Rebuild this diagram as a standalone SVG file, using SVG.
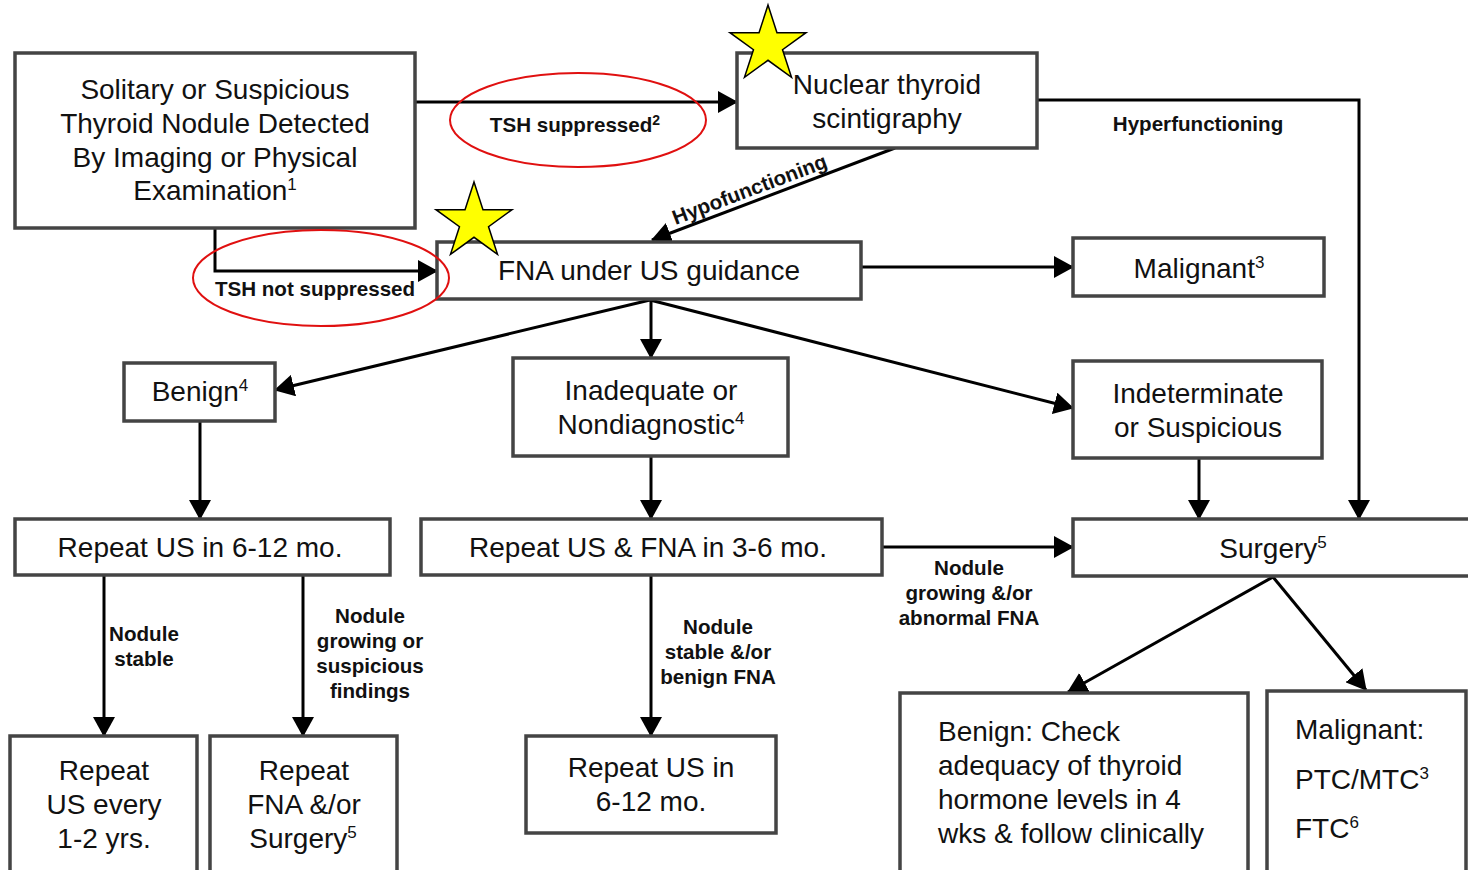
<svg xmlns="http://www.w3.org/2000/svg" width="1468" height="870" viewBox="0 0 1468 870">
<style>
.box{fill:#fff;stroke:#444;stroke-width:3.5}
.t{font-family:"Liberation Sans",Arial,sans-serif;font-size:28px;fill:#111;text-anchor:middle}
.tl{font-family:"Liberation Sans",Arial,sans-serif;font-size:28px;fill:#111}
.lb{font-family:"Liberation Sans",Arial,sans-serif;font-size:20.6px;font-weight:bold;fill:#111;text-anchor:middle}
.c{fill:none;stroke:#000;stroke-width:3}
.ca{fill:none;stroke:#000;stroke-width:3;marker-end:url(#ah)}
.ell{fill:none;stroke:#e01010;stroke-width:2}
.star{fill:#ffff00;stroke:#000;stroke-width:1.5}
</style>
<defs>
<marker id="ah" viewBox="0 0 20 22" refX="19" refY="11" markerWidth="20" markerHeight="22" markerUnits="userSpaceOnUse" orient="auto">
<path d="M0,0 L20,11 L0,22 z" fill="#000"/>
</marker>
<polygon id="starshape" points="0,-40 8.98,-12.36 38.04,-12.36 14.53,4.72 23.51,32.36 0,15.28 -23.51,32.36 -14.53,4.72 -38.04,-12.36 -8.98,-12.36"/>
</defs>
<rect width="1468" height="870" fill="#fff"/>

<g id="connectors">
<path class="ca" d="M415,102 H737"/>
<path class="ca" d="M215,228 V271 H437"/>
<path class="ca" d="M1037,100 H1359 V519"/>
<path class="ca" d="M895,148 L652,240"/>
<path class="ca" d="M861,267 H1073"/>
<path class="ca" d="M650,300 L275,390"/>
<path class="ca" d="M651,300 V358"/>
<path class="ca" d="M650,300 L1073,408"/>
<path class="ca" d="M200,421 V519"/>
<path class="ca" d="M651,456 V519"/>
<path class="ca" d="M1199,458 V519"/>
<path class="ca" d="M882,547 H1073"/>
<path class="ca" d="M104,575 V736"/>
<path class="ca" d="M303,575 V736"/>
<path class="ca" d="M651,575 V736"/>
<path class="ca" d="M1273,577 L1068,692"/>
<path class="ca" d="M1273,577 L1366,690"/>
</g>

<g id="labels">
<text class="lb" x="575" y="132">TSH suppressed<tspan dy="-7" font-size="14">2</tspan></text>
<text class="lb" x="315" y="296">TSH not suppressed</text>
<text class="lb" x="1198" y="131">Hyperfunctioning</text>
<text class="lb" transform="translate(752,196) rotate(-20.7)">Hypofunctioning</text>
<text class="lb"><tspan x="969" y="575">Nodule</tspan><tspan x="969" y="600">growing &amp;/or</tspan><tspan x="969" y="625">abnormal FNA</tspan></text>
<text class="lb"><tspan x="144" y="641">Nodule</tspan><tspan x="144" y="666">stable</tspan></text>
<text class="lb"><tspan x="370" y="623">Nodule</tspan><tspan x="370" y="648">growing or</tspan><tspan x="370" y="673">suspicious</tspan><tspan x="370" y="698">findings</tspan></text>
<text class="lb"><tspan x="718" y="634">Nodule</tspan><tspan x="718" y="659">stable &amp;/or</tspan><tspan x="718" y="684">benign FNA</tspan></text>
</g>

<g id="n-start">
<rect class="box" x="15" y="53" width="400" height="175"/>
<text class="t"><tspan x="215" y="99">Solitary or Suspicious</tspan><tspan x="215" y="133">Thyroid Nodule Detected</tspan><tspan x="215" y="167">By Imaging or Physical</tspan><tspan x="215" y="200">Examination<tspan dy="-10" font-size="17">1</tspan></tspan></text>
</g>

<g id="n-nuclear">
<rect class="box" x="737" y="53" width="300" height="95"/>
<text class="t"><tspan x="887" y="94">Nuclear thyroid</tspan><tspan x="887" y="128">scintigraphy</tspan></text>
</g>

<g id="n-fna">
<rect class="box" x="437" y="242" width="424" height="57"/>
<text class="t" x="649" y="280">FNA under US guidance</text>
</g>

<g id="n-malignant3">
<rect class="box" x="1073" y="238" width="251" height="58"/>
<text class="t" x="1199" y="278">Malignant<tspan dy="-10" font-size="17">3</tspan></text>
</g>

<g id="n-benign">
<rect class="box" x="124" y="363" width="151" height="58"/>
<text class="t" x="200" y="401">Benign<tspan dy="-10" font-size="17">4</tspan></text>
</g>

<g id="n-inadequate">
<rect class="box" x="513" y="358" width="275" height="98"/>
<text class="t"><tspan x="651" y="400">Inadequate or</tspan><tspan x="651" y="434">Nondiagnostic<tspan dy="-10" font-size="17">4</tspan></tspan></text>
</g>

<g id="n-indeterminate">
<rect class="box" x="1073" y="361" width="249" height="97"/>
<text class="t"><tspan x="1198" y="403">Indeterminate</tspan><tspan x="1198" y="437">or Suspicious</tspan></text>
</g>

<g id="n-repeat-us">
<rect class="box" x="15" y="519" width="375" height="56"/>
<text class="t" x="200" y="557">Repeat US in 6-12 mo.</text>
</g>

<g id="n-repeat-usfna">
<rect class="box" x="421" y="519" width="461" height="56"/>
<text class="t" x="648" y="557">Repeat US &amp; FNA in 3-6 mo.</text>
</g>

<g id="n-surgery">
<rect class="box" x="1073" y="519" width="410" height="57"/>
<text class="t" x="1273" y="558">Surgery<tspan dy="-10" font-size="17">5</tspan></text>
</g>

<g id="n-repeat-every">
<rect class="box" x="10" y="736" width="187" height="150"/>
<text class="t"><tspan x="104" y="780">Repeat</tspan><tspan x="104" y="814">US every</tspan><tspan x="104" y="848">1-2 yrs.</tspan></text>
</g>

<g id="n-repeat-fna">
<rect class="box" x="210" y="736" width="187" height="150"/>
<text class="t"><tspan x="304" y="780">Repeat</tspan><tspan x="304" y="814">FNA &amp;/or</tspan><tspan x="303" y="848">Surgery<tspan dy="-10" font-size="17">5</tspan></tspan></text>
</g>

<g id="n-repeat-us2">
<rect class="box" x="526" y="736" width="250" height="97"/>
<text class="t"><tspan x="651" y="777">Repeat US in</tspan><tspan x="651" y="811">6-12 mo.</tspan></text>
</g>

<g id="n-benign-check">
<rect class="box" x="900" y="693" width="348" height="190"/>
<text class="tl"><tspan x="938" y="741">Benign: Check</tspan><tspan x="938" y="775">adequacy of thyroid</tspan><tspan x="938" y="809">hormone levels in 4</tspan><tspan x="938" y="843">wks &amp; follow clinically</tspan></text>
</g>

<g id="n-malignant-final">
<rect class="box" x="1267" y="691" width="199" height="192"/>
<text class="tl"><tspan x="1295" y="739">Malignant:</tspan><tspan x="1295" y="789">PTC/MTC<tspan dy="-10" font-size="17">3</tspan></tspan><tspan x="1295" y="838">FTC<tspan dy="-10" font-size="17">6</tspan></tspan></text>
</g>

<g id="highlights">
<ellipse class="ell" cx="578" cy="120" rx="128" ry="47"/>
<ellipse class="ell" cx="321" cy="278" rx="128" ry="48"/>
<use href="#starshape" class="star" transform="translate(768,45)"/>
<use href="#starshape" class="star" transform="translate(474,222)"/>
</g>
</svg>
